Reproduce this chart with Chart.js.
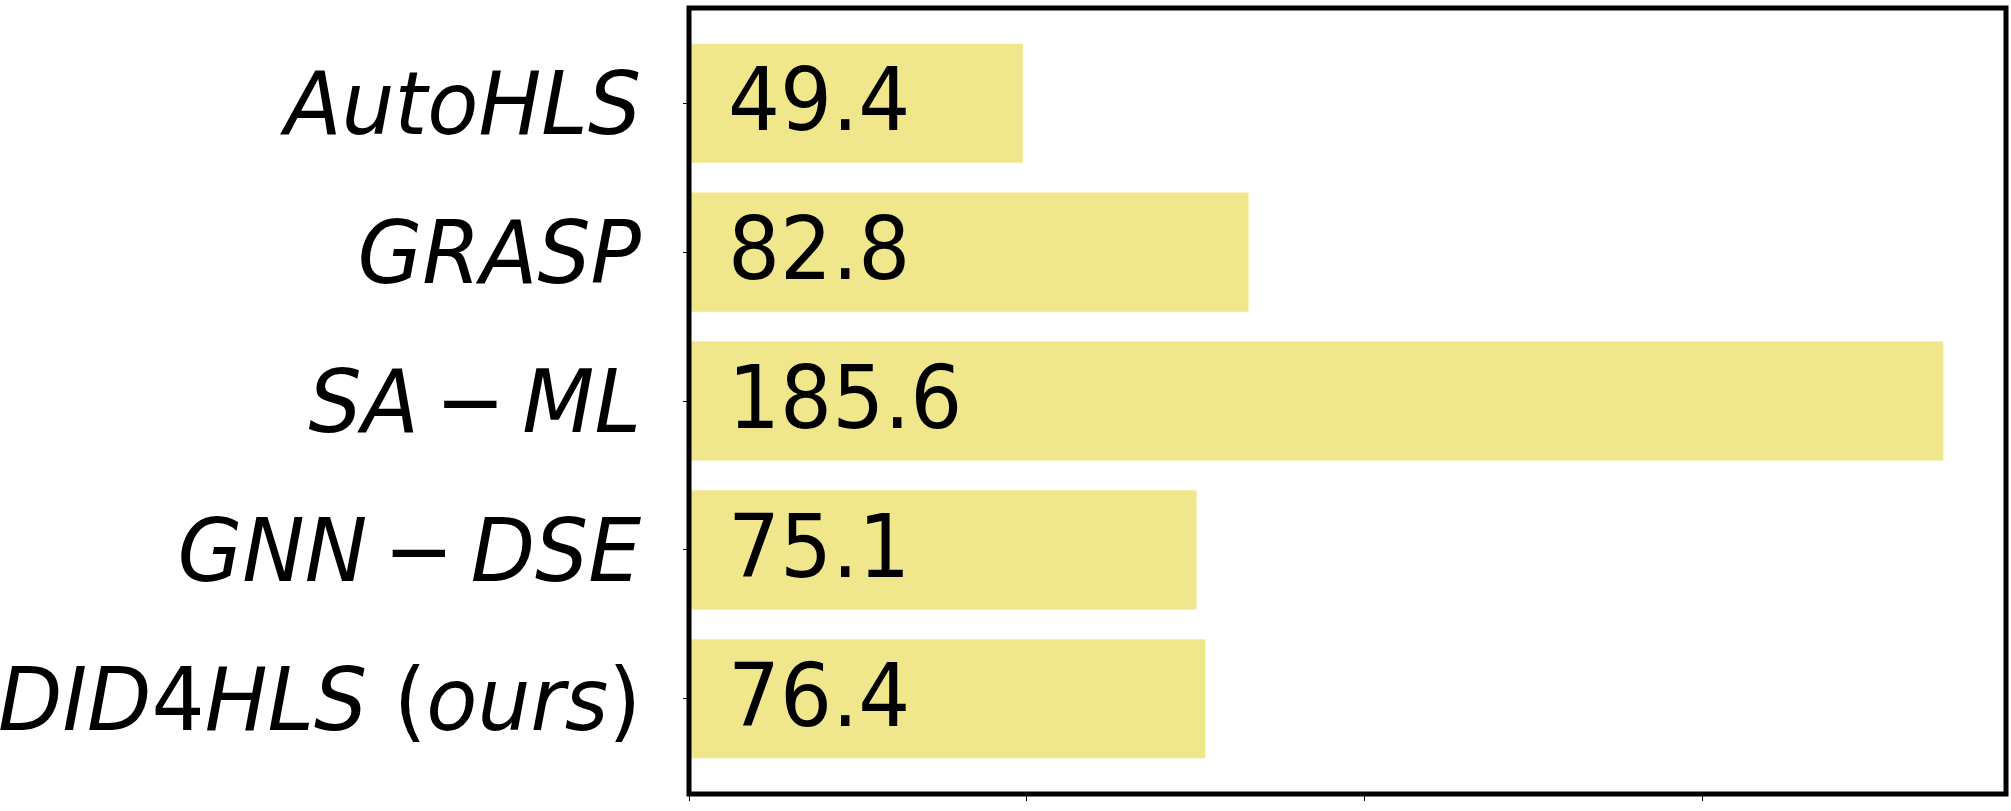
<!DOCTYPE html>
<html>
<head>
<meta charset="utf-8">
<script src="https://cdn.jsdelivr.net/npm/chart.js@4"></script>
<style>
  html, body { margin: 0; padding: 0; background: #fff; }
  #wrap { width: 2011px; height: 811px; }
</style>
</head>
<body>
<div id="wrap"><canvas id="bar-chart" width="2011" height="811"></canvas></div>
<script>
// chart data
const methods = ['AutoHLS', 'GRASP', 'SA\u2009\u2212\u2009ML', 'GNN\u2009\u2212\u2009DSE', 'DID4HLS (ours)'];
const values = [49.4, 82.8, 185.6, 75.1, 76.4];
const xTicks = [0, 50, 100, 150];

const barColor = '#f0e68c';
const fontName = '"DejaVu Sans", sans-serif';
const fontSize = 88;

// frame around the plot area, like matplotlib's spines
const framePlugin = {
    id: 'frame',
    afterDraw(chart) {
        const a = chart.chartArea;
        const ctx = chart.ctx;
        ctx.save();
        ctx.strokeStyle = '#000';
        ctx.lineWidth = 5;
        ctx.strokeRect(a.left, a.top, a.right - a.left, a.bottom - a.top);
        ctx.restore();
    }
};

// split a label the way mathtext does: letters italic, digits/brackets/minus upright
function mathRuns(s) {
    const runs = [];
    for (const ch of s) {
        const it = /[A-Za-z]/.test(ch);
        const last = runs[runs.length - 1];
        if (last && last.it === it) last.t += ch;
        else runs.push({ t: ch, it: it });
    }
    return runs;
}

// method names on the left and values inside the bars
const textPlugin = {
    id: 'texts',
    afterDatasetsDraw(chart) {
        const ctx = chart.ctx;
        const meta = chart.getDatasetMeta(0);
        const yScale = chart.scales.y;
        const x0 = chart.scales.x.getPixelForValue(0);
        const upright = fontSize + 'px ' + fontName;
        const italic = 'oblique ' + fontSize + 'px ' + fontName;
        ctx.save();
        ctx.fillStyle = '#000';
        ctx.textBaseline = 'alphabetic';
        ctx.textAlign = 'left';

        // values
        ctx.font = upright;
        meta.data.forEach((bar, i) => {
            ctx.save();
            ctx.translate(x0 + 39, bar.y + 27);
            ctx.scale(0.93, 1);
            ctx.fillText(values[i].toFixed(1), 0, 0);
            ctx.restore();
        });

        // category labels, right aligned
        methods.forEach((m, i) => {
            const runs = mathRuns(m);
            let w = 0;
            runs.forEach(r => {
                ctx.font = r.it ? italic : upright;
                r.w = ctx.measureText(r.t).width;
                w += r.w;
            });
            ctx.save();
            ctx.translate(641, yScale.getPixelForValue(i) + 31);
            ctx.scale(0.95, 1);
            let x = -w;
            runs.forEach(r => {
                ctx.font = r.it ? italic : upright;
                ctx.fillText(r.t, x, 0);
                x += r.w;
            });
            ctx.restore();
        });
        ctx.restore();
    }
};

const ctx = document.getElementById('bar-chart').getContext('2d');
new Chart(ctx, {
    type: 'bar',
    data: {
        datasets: [{
            data: values.map((v, i) => ({ x: v, y: i })),
            backgroundColor: barColor,
            borderWidth: 0,
            categoryPercentage: 1,
            barPercentage: 0.8
        }]
    },
    options: {
        indexAxis: 'y',
        responsive: false,
        animation: false,
        devicePixelRatio: 1,
        layout: { padding: { top: 8, right: 5, left: 0, bottom: 0 } },
        plugins: {
            legend: { display: false },
            tooltip: { enabled: false }
        },
        scales: {
            x: {
                type: 'linear',
                min: 0,
                max: 194.88,
                border: { display: false },
                grid: {
                    drawOnChartArea: false,
                    tickLength: 7,
                    tickColor: '#000',
                    lineWidth: 1
                },
                afterBuildTicks: (scale) => {
                    scale.ticks = xTicks.map(v => ({ value: v }));
                },
                ticks: { display: false },
                afterFit: (scale) => { scale.height = 17; }
            },
            y: {
                type: 'linear',
                reverse: true,
                offset: false,
                min: -0.64,
                max: 4.64,
                border: { display: false },
                grid: {
                    offset: false,
                    drawOnChartArea: false,
                    tickLength: 6,
                    tickColor: '#000',
                    lineWidth: 1
                },
                afterBuildTicks: (scale) => {
                    scale.ticks = methods.map((m, i) => ({ value: i }));
                },
                ticks: { display: false },
                afterFit: (scale) => {
                    scale.width = 689;
                    scale.paddingTop = 0;
                    scale.paddingBottom = 0;
                }
            }
        }
    },
    plugins: [framePlugin, textPlugin]
});
</script>
</body>
</html>
